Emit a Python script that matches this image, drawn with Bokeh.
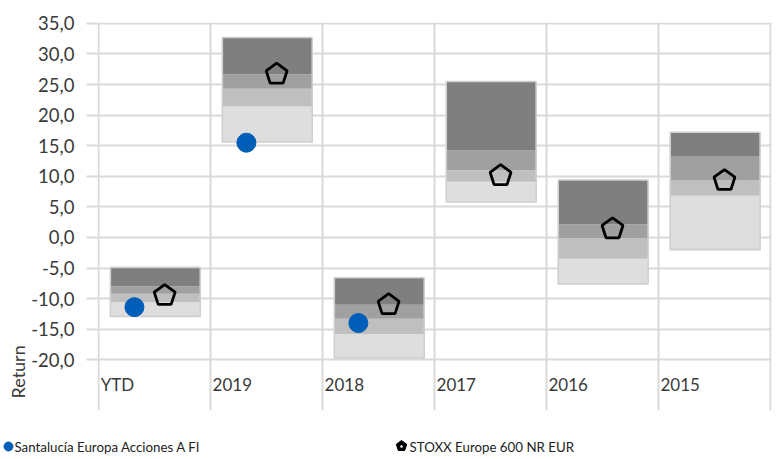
import math
from bokeh.plotting import figure
from bokeh.layouts import column
from bokeh.models import (ColumnDataSource, Range1d, FixedTicker, Title,
                          CustomJSTickFormatter)
from bokeh.core.properties import value
from bokeh.embed import file_html
from bokeh.resources import INLINE

categories = ["YTD", "2019", "2018", "2017", "2016", "2015"]
band_bottom = [-12.9, 15.6, -19.7, 5.8, -7.6, -2.0]
band_q1 = [-10.6, 21.4, -15.8, 9.1, -3.5, 6.8]
band_med = [-9.2, 24.3, -13.3, 11.0, -0.1, 9.4]
band_q3 = [-8.0, 26.7, -11.0, 14.2, 2.1, 13.3]
band_top = [-4.9, 32.7, -6.6, 25.5, 9.4, 17.2]
fund = [-11.4, 15.5, -14.0, None, None, None]
index = [-9.5, 26.7, -11.0, 10.1, 1.4, 9.3]
y_ticks = [-20, -15, -10, -5, 0, 5, 10, 15, 20, 25, 30, 35]
fund_name = "Santalucía Europa Acciones A FI"
index_name = "STOXX Europe 600 NR EUR"

FONT = "Lato"
TXT = "#3a3a3a"
BLUE = "#005eb8"

pos = list(range(len(categories)))
p = figure(width=774, height=412, output_backend="svg", toolbar_location=None,
           x_range=Range1d(-0.01, 6.01), y_range=Range1d(-28.3, 35.15),
           min_border_left=97, min_border_right=3, min_border_top=22,
           min_border_bottom=2)
p.frame_align = False
p.outline_line_color = None
p.background_fill_color = "white"

# grids
p.xgrid.ticker = FixedTicker(ticks=list(range(len(categories) + 1)))
p.ygrid.ticker = FixedTicker(ticks=y_ticks)
for g in (p.xgrid, p.ygrid):
    g.grid_line_color = "#d9d9d9"
    g.grid_line_width = 2

p.xaxis.visible = False
ya = p.yaxis[0]
ya.ticker = FixedTicker(ticks=y_ticks)
ya.formatter = CustomJSTickFormatter(code="return tick.toFixed(1).replace('.', ',');")
ya.axis_line_color = None
ya.major_tick_out = 11
ya.major_tick_in = 0
ya.major_tick_line_color = "#d9d9d9"
ya.major_tick_line_width = 2
ya.minor_tick_line_color = None
ya.major_label_standoff = 12
ya.major_label_text_font = FONT
ya.major_label_text_font_size = "18.5px"
ya.major_label_text_color = TXT

# quartile bands
colors = ["#dedede", "#bfbfbf", "#a0a0a0", "#7f7f7f"]
levels = [band_bottom, band_q1, band_med, band_q3, band_top]
left = [i + 0.105 for i in pos]
right = [i + 0.908 for i in pos]
for k in range(4):
    src = ColumnDataSource(dict(left=left, right=right, bottom=levels[k], top=levels[k + 1]))
    p.quad(left="left", right="right", bottom="bottom", top="top", source=src,
           fill_color=colors[k], line_color=None)
outline = ColumnDataSource(dict(left=left, right=right, bottom=band_bottom, top=band_top))
p.quad(left="left", right="right", bottom="bottom", top="top", source=outline,
       fill_color=None, line_color="#cfcfcf", line_width=1.6)

# category labels
cat_src = ColumnDataSource(dict(x=[i + 0.018 for i in pos], y=[-24.0] * len(pos), t=categories))
p.text(x="x", y="y", text="t", source=cat_src, text_font=value(FONT),
       text_font_size="17px", text_color=TXT, text_align="left", text_baseline="middle")

# fund points
fx = [i + 0.32 for i, v in zip(pos, fund) if v is not None]
fy = [v for v in fund if v is not None]
p.scatter(x=fx, y=fy, marker="circle", size=19, fill_color=BLUE, line_color=BLUE)

# index pentagons
ix = [i + 0.59 for i in pos]
p.ngon(x=ix, y=index, radius=11, radius_units="screen", n=5, angle=0,
       fill_color=None, line_color="black", line_width=2.8)

# y axis title
p.add_layout(Title(text="Return", align="left", offset=12, standoff=0, text_font=FONT,
                   text_font_size="18px", text_font_style="normal",
                   text_color=TXT), "left")

# legend strip
leg = figure(width=774, height=47, output_backend="svg", toolbar_location=None,
             x_range=Range1d(0, 774), y_range=Range1d(0, 47),
             min_border=0, min_border_left=0, min_border_right=0,
             min_border_top=0, min_border_bottom=0)
leg.frame_align = False
leg.axis.visible = False
leg.grid.visible = False
leg.outline_line_color = None
leg.scatter(x=[8], y=[13], marker="circle", size=9, fill_color=BLUE, line_color=BLUE)
leg.ngon(x=[401], y=[13.5], radius=5.5, radius_units="screen", n=5, angle=0,
         fill_color="black", line_color="black", line_width=1)
leg.scatter(x=[401], y=[13], marker="circle", size=2.5, fill_color="white", line_color=None)
leg.text(x=[14, 409], y=[13, 13], text=[fund_name, index_name], text_font=value(FONT),
         text_font_size="13.3px", text_color="#222222", text_align="left",
         text_baseline="middle")

layout = column(p, leg, spacing=0)
open("out.html", "w").write(file_html(layout, INLINE))
